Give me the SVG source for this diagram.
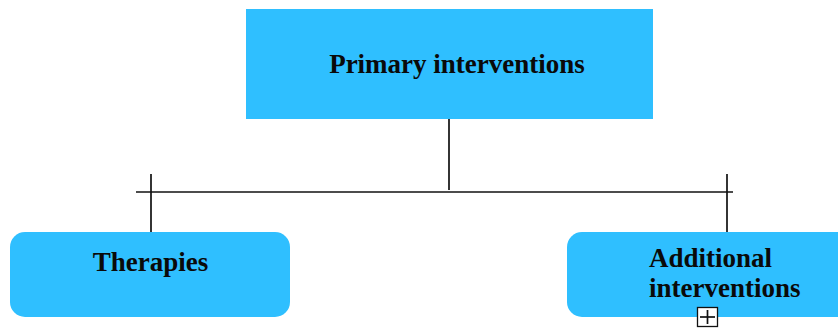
<svg xmlns="http://www.w3.org/2000/svg" width="838" height="329" viewBox="0 0 838 329">
  <style>
    .box { fill: #2fbfff; }
    .label { font-family: "Liberation Serif", "Times New Roman", serif; font-weight: bold; font-size: 27px; fill: #0a0a0a; }
    .line { stroke: #111; stroke-width: 1.7; fill: none; }
  </style>
  <rect x="0" y="0" width="838" height="329" fill="#ffffff"/>
  <g id="connectors">
    <line class="line" x1="449" y1="119" x2="449" y2="190"/>
    <line class="line" x1="136" y1="192" x2="733" y2="192"/>
    <line class="line" x1="151" y1="174" x2="151" y2="232"/>
    <line class="line" x1="727" y1="174" x2="727" y2="232"/>
  </g>
  <g id="primary">
    <rect class="box" x="246" y="9" width="407" height="110"/>
    <text class="label" x="457" y="73" text-anchor="middle">Primary interventions</text>
  </g>
  <g id="therapies">
    <rect class="box" x="10" y="232" width="280" height="85" rx="15"/>
    <text class="label" x="150.5" y="271" text-anchor="middle">Therapies</text>
  </g>
  <g id="additional">
    <rect class="box" x="567" y="232" width="285" height="85" rx="15"/>
    <text class="label" x="649" y="267">Additional</text>
    <text class="label" x="649" y="297">interventions</text>
    <rect x="697.5" y="307.5" width="20" height="19" fill="#ffffff" stroke="#111" stroke-width="1.3"/>
    <line class="line" x1="707.5" y1="310" x2="707.5" y2="324"/>
    <line class="line" x1="700" y1="317" x2="715" y2="317"/>
  </g>
</svg>
